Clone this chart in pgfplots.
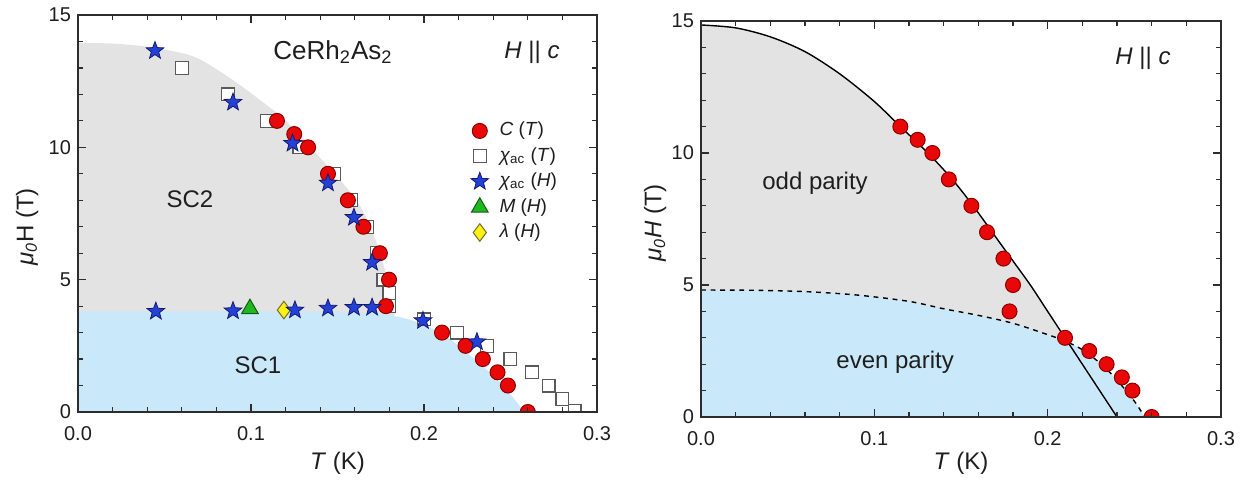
\documentclass[border=0pt]{standalone}
\usepackage{fontspec}
\setmainfont{Liberation Sans}
\usepackage{pgfplots}
\pgfplotsset{compat=1.18}
\usetikzlibrary{plotmarks}

\definecolor{scgray}{RGB}{227,227,227}
\definecolor{scblue}{RGB}{201,233,250}
\definecolor{cred}{RGB}{232,8,8}
\definecolor{credge}{RGB}{140,0,0}
\definecolor{sblue}{RGB}{35,65,215}
\definecolor{sbedge}{RGB}{20,25,110}
\definecolor{tgreen}{RGB}{30,185,30}
\definecolor{tgedge}{RGB}{20,90,20}
\definecolor{dyel}{RGB}{250,240,20}
\definecolor{dyedge}{RGB}{120,110,40}
\definecolor{sqedge}{RGB}{90,90,90}
\definecolor{axc}{RGB}{45,45,45}
\definecolor{txt}{RGB}{30,30,30}

% filled five-pointed star
\pgfdeclareplotmark{fstar}{%
  \pgfpathmoveto{\pgfpointpolar{90}{\pgfplotmarksize}}%
  \pgfpathlineto{\pgfpointpolar{126}{0.42\pgfplotmarksize}}%
  \pgfpathlineto{\pgfpointpolar{162}{\pgfplotmarksize}}%
  \pgfpathlineto{\pgfpointpolar{198}{0.42\pgfplotmarksize}}%
  \pgfpathlineto{\pgfpointpolar{234}{\pgfplotmarksize}}%
  \pgfpathlineto{\pgfpointpolar{270}{0.42\pgfplotmarksize}}%
  \pgfpathlineto{\pgfpointpolar{306}{\pgfplotmarksize}}%
  \pgfpathlineto{\pgfpointpolar{342}{0.42\pgfplotmarksize}}%
  \pgfpathlineto{\pgfpointpolar{18}{\pgfplotmarksize}}%
  \pgfpathlineto{\pgfpointpolar{54}{0.42\pgfplotmarksize}}%
  \pgfpathclose
  \pgfusepathqfillstroke
}

\pgfplotsset{
  phase/.style={
    scale only axis,
    xmin=0, xmax=0.3, ymin=0, ymax=15,
    xtick={0,0.1,0.2,0.3}, xticklabels={0.0,0.1,0.2,0.3},
    ytick={0,5,10,15}, yticklabels={0,5,10,15},
    minor x tick num=4, minor y tick num=4,
    tick align=inside, xtick pos=both, ytick pos=both,
    xticklabel pos=lower, yticklabel pos=left,
    major tick length=4pt, minor tick length=2.5pt,
    axis line style={line width=0.8pt, draw=axc},
    every tick/.style={line width=0.6pt, draw=axc},
    ticklabel style={font=\fontsize{10}{12}\selectfont, text=txt},
    xticklabel style={yshift=-3.5pt},
    label style={font=\fontsize{12}{14}\selectfont, text=txt},
    axis on top, clip marker paths=true,
  },
  mC/.style={only marks, mark=*, mark size=3.75pt, mark options={fill=cred, draw=credge, line width=0.5pt}},
  mSq/.style={only marks, mark=square*, mark size=3.2pt, mark options={fill=white, draw=sqedge, line width=0.6pt}},
  mSt/.style={only marks, mark=fstar, mark size=4.6pt, mark options={fill=sblue, draw=sbedge, line width=0.4pt}},
  mTr/.style={only marks, mark=triangle*, mark size=4.8pt, mark options={fill=tgreen, draw=tgedge, line width=0.5pt}},
  mDi/.style={only marks, mark=diamond*, mark size=4.4pt, mark options={fill=dyel, draw=dyedge, line width=0.5pt}},
}

\begin{document}
\begin{tikzpicture}[x=1pt,y=1pt]
\path[use as bounding box] (0,0) rectangle (621.5,242);

% ---------------- left panel
\begin{axis}[phase, at={(39pt,36pt)}, anchor=south west,
  width=259.5pt, height=198.5pt,
  xlabel={\textit{T} (K)},
  ylabel={\textit{μ}\textsubscript{\textit{0}}H (T)},
  xlabel style={at={(axis description cs:0.5,-0.128)}, anchor=center},
  ylabel style={at={(axis description cs:-0.098,0.466)}, anchor=center, rotate=0},
  legend style={at={(axis cs:0.2272,10.96)}, anchor=north west, draw=none, fill=none,
    inner sep=0pt, outer sep=0pt, row sep=3.6pt, column sep=5.5pt,
    font=\fontsize{9.5}{10}\selectfont,
    nodes={inner sep=0pt, text height=7pt, text depth=2pt, text=txt}},
  legend cell align=left,
  legend image code/.code={\draw[#1] plot coordinates {(0pt,0pt)};},
]
\addplot[fill=scgray, draw=none, smooth, forget plot] coordinates {
  (0,13.95) (0.02,13.92) (0.04,13.8) (0.066,13.45) (0.086,12.7) (0.105,11.8)
  (0.121,10.95) (0.14,9.6) (0.161,8.0) (0.172,6.5) (0.179,5.0) (0.183,3.8)} \closedcycle;
\addplot[fill=scblue, draw=none, smooth, forget plot] coordinates {
  (0,3.8) (0.12,3.8) (0.15,3.78) (0.17,3.72) (0.185,3.6) (0.2,3.3)
  (0.215,2.75) (0.23,1.95) (0.245,1.05) (0.258,0)} \closedcycle;

\addplot[mSq, forget plot] coordinates {
  (0.0601,13.0) (0.0867,12.0) (0.109,11.0) (0.128,10.0) (0.148,9.0) (0.158,8.0)
  (0.167,7.0) (0.1726,6.0) (0.1765,5.0) (0.180,4.5) (0.180,4.0) (0.200,3.5)
  (0.219,3.0) (0.2364,2.5) (0.250,2.0) (0.2624,1.5) (0.272,1.0) (0.280,0.5) (0.287,0.05)};
\addplot[mC, forget plot] coordinates {
  (0.115,11.0) (0.125,10.5) (0.133,10.0) (0.1445,9.0) (0.156,8.0) (0.165,7.0)
  (0.1745,6.0) (0.1798,5.0) (0.178,4.0) (0.2104,3.0) (0.224,2.5) (0.234,2.0)
  (0.2425,1.5) (0.2485,1.0) (0.260,0)};
\addplot[mDi, forget plot] coordinates {(0.119,3.85)};
\addplot[mTr, forget plot] coordinates {(0.0994,3.9)};
\addplot[mSt, forget plot] coordinates {
  (0.0445,13.65) (0.0896,11.7) (0.124,10.15) (0.1445,8.65) (0.1595,7.35) (0.170,5.65)
  (0.045,3.8) (0.0896,3.82) (0.1254,3.85) (0.1445,3.92) (0.1595,3.95) (0.170,3.95)
  (0.1994,3.45) (0.2306,2.65)};

\addlegendimage{mC}\addlegendentry{\textit{C} (\textit{T})}
\addlegendimage{mSq}\addlegendentry{\textit{χ}\textsubscript{ac} (\textit{T})}
\addlegendimage{mSt}\addlegendentry{\textit{χ}\textsubscript{ac} (\textit{H})}
\addlegendimage{mTr}\addlegendentry{\textit{M} (\textit{H})}
\addlegendimage{mDi}\addlegendentry{\textit{λ} (\textit{H})}

\node[font=\fontsize{13}{15}\selectfont, text=txt] at (axis cs:0.1474,13.6) {CeRh\textsubscript{2}As\textsubscript{2}};
\node[font=\fontsize{12}{14}\selectfont, text=txt] at (axis cs:0.2624,13.6) {\textit{H} || \textit{c}};
\node[font=\fontsize{12}{14}\selectfont, text=txt] at (axis cs:0.0647,8.05) {SC2};
\node[font=\fontsize{12}{14}\selectfont, text=txt] at (axis cs:0.104,1.78) {SC1};
\end{axis}

% ---------------- right panel
\begin{axis}[phase, at={(350.5pt,33.5pt)}, anchor=south west,
  width=260pt, height=198pt,
  xlabel={\textit{T} (K)},
  ylabel={\textit{μ}\textsubscript{\textit{0}}\textit{H} (T)},
  xlabel style={at={(axis description cs:0.5,-0.116)}, anchor=center},
  ylabel style={at={(axis description cs:-0.088,0.49)}, anchor=center, rotate=0},
]
\addplot[fill=scgray, draw=none, smooth, forget plot] coordinates {
  (0,14.85) (0.02,14.74) (0.04,14.4) (0.06,13.84) (0.08,13.0) (0.1,11.95)
  (0.115,11.0) (0.125,10.38) (0.133,9.86) (0.145,9.0) (0.157,8.0) (0.168,7.0)
  (0.179,6.0) (0.19,5.0) (0.2,4.0) (0.21,3.0) (0.225,1.5) (0.24,0)} \closedcycle;
\addplot[fill=scblue, draw=none, smooth, forget plot] coordinates {
  (0,4.81) (0.03,4.8) (0.06,4.75) (0.09,4.62) (0.12,4.38) (0.14,4.1) (0.16,3.85)
  (0.18,3.55) (0.2,3.12) (0.21,2.88) (0.22,2.55) (0.23,2.05) (0.24,1.4) (0.25,0.6) (0.256,0)} \closedcycle;
\addplot[black, line width=0.7pt, smooth, forget plot] coordinates {
  (0,14.85) (0.02,14.74) (0.04,14.4) (0.06,13.84) (0.08,13.0) (0.1,11.95)
  (0.115,11.0) (0.125,10.38) (0.133,9.86) (0.145,9.0) (0.157,8.0) (0.168,7.0)
  (0.179,6.0) (0.19,5.0) (0.2,4.0) (0.21,3.0) (0.225,1.5) (0.24,0)};
\addplot[black, line width=0.7pt, dash pattern=on 2.4pt off 2.4pt, smooth, forget plot] coordinates {
  (0,4.81) (0.03,4.8) (0.06,4.75) (0.09,4.62) (0.12,4.38) (0.14,4.1) (0.16,3.85)
  (0.18,3.55) (0.2,3.12) (0.21,2.88) (0.22,2.55) (0.23,2.05) (0.24,1.4) (0.25,0.6) (0.256,0)};
\addplot[mC, forget plot] coordinates {
  (0.115,11.0) (0.125,10.5) (0.1335,10.0) (0.143,9.0) (0.156,8.0) (0.165,7.0)
  (0.1745,6.0) (0.180,5.0) (0.178,4.0) (0.210,3.0) (0.224,2.5) (0.234,2.0)
  (0.2428,1.5) (0.2489,1.0) (0.260,0)};

\node[font=\fontsize{12}{14}\selectfont, text=txt] at (axis cs:0.255,13.6) {\textit{H} || \textit{c}};
\node[font=\fontsize{12}{14}\selectfont, text=txt] at (axis cs:0.0658,8.86) {odd parity};
\node[font=\fontsize{12}{14}\selectfont, text=txt] at (axis cs:0.112,2.08) {even parity};
\end{axis}
\end{tikzpicture}
\end{document}
